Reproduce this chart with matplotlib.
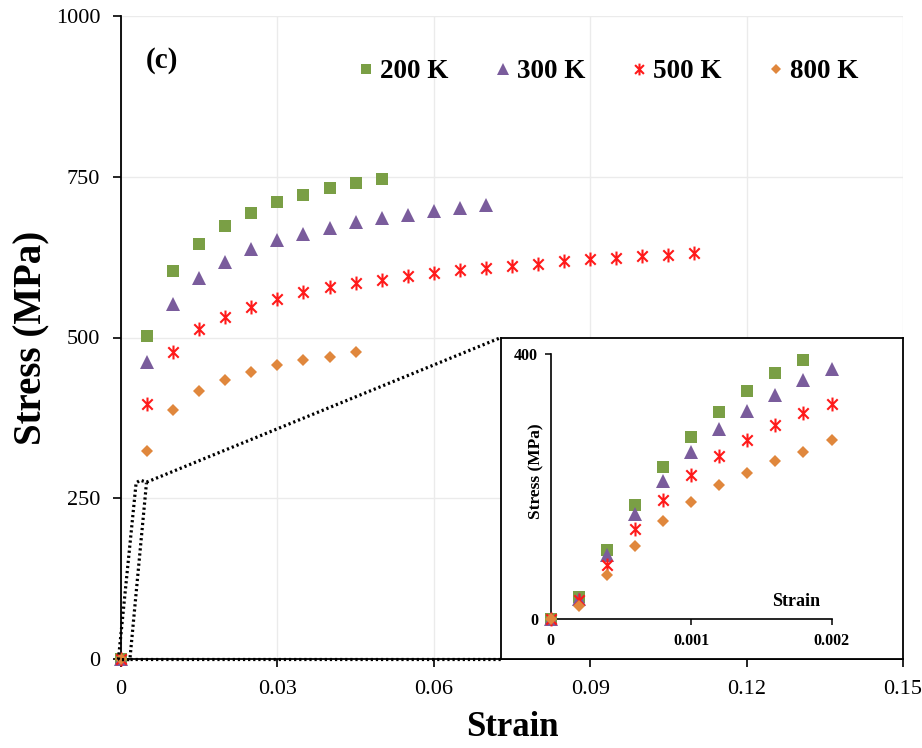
import matplotlib
matplotlib.use('Agg')
import matplotlib.pyplot as plt
from matplotlib.path import Path
from matplotlib.patches import Polygon

plt.rcParams['font.family'] = ['Liberation Serif', 'DejaVu Serif']

# main plot data (strain, stress MPa)
strain_200 = [0, 0.005, 0.010, 0.015, 0.020, 0.025, 0.030, 0.035, 0.040, 0.045, 0.050]
stress_200 = [0, 502, 603, 646, 674, 694, 710, 722, 732, 740, 747]

strain_300 = [0, 0.005, 0.010, 0.015, 0.020, 0.025, 0.030, 0.035, 0.040, 0.045, 0.050,
              0.055, 0.060, 0.065, 0.070]
stress_300 = [0, 462, 552, 593, 618, 638, 651, 661, 671, 679, 686, 691, 697, 701, 706]

strain_500 = [0, 0.005, 0.010, 0.015, 0.020, 0.025, 0.030, 0.035, 0.040, 0.045, 0.050,
              0.055, 0.060, 0.065, 0.070, 0.075, 0.080, 0.085, 0.090, 0.095, 0.100,
              0.105, 0.110]
stress_500 = [0, 397, 477, 513, 532, 548, 560, 570, 578, 585, 590, 596, 600, 605, 608,
              611, 615, 619, 622, 624, 627, 629, 632]

strain_800 = [0, 0.005, 0.010, 0.015, 0.020, 0.025, 0.030, 0.035, 0.040, 0.045]
stress_800 = [0, 323, 387, 417, 434, 447, 457, 465, 470, 477]

# inset (elastic part)
in_strain = [0, 0.0002, 0.0004, 0.0006, 0.0008, 0.0010, 0.0012, 0.0014, 0.0016, 0.0018, 0.0020]
in_200 = [0, 34, 104, 173, 229, 275, 313, 344, 371, 392]
in_300 = [0, 30, 97, 158, 209, 253, 287, 315, 339, 361, 378]
in_500 = [0, 29, 82, 136, 180, 217, 246, 270, 293, 311, 325]
in_800 = [0, 20, 67, 111, 148, 177, 203, 221, 239, 253, 270]

labels = ['200 K', '300 K', '500 K', '800 K']
colors = ['#7a9f45', '#7a5c9c', '#ff1a1a', '#e0873c']

x_ticks = [0, 0.03, 0.06, 0.09, 0.12, 0.15]
x_ticklabels = ['0', '0.03', '0.06', '0.09', '0.12', '0.15']
y_ticks = [0, 250, 500, 750, 1000]

# excel-like star marker: vertical bar + X
star = Path([(0, -1), (0, 1), (-0.75, -0.75), (0.75, 0.75), (-0.75, 0.75), (0.75, -0.75)],
            [Path.MOVETO, Path.LINETO, Path.MOVETO, Path.LINETO, Path.MOVETO, Path.LINETO])


def draw_series(a, xs_list, ys_list, clip=True):
    a.plot(xs_list[0], ys_list[0], ls='none', marker='s', ms=8, mew=0, color=colors[0],
           label=labels[0], clip_on=clip, zorder=3)
    a.plot(xs_list[1], ys_list[1], ls='none', marker='^', ms=9.5, mew=0, color=colors[1],
           label=labels[1], clip_on=clip, zorder=3)
    a.plot(xs_list[2], ys_list[2], ls='none', marker=star, ms=10, mew=1.5, mec=colors[2],
           color=colors[2], label=labels[2], clip_on=clip, zorder=3)
    a.plot(xs_list[3], ys_list[3], ls='none', marker='D', ms=6.5, mew=0, color=colors[3],
           label=labels[3], clip_on=clip, zorder=3)


fig = plt.figure(figsize=(9.22, 7.48), dpi=100)
ax = fig.add_axes([121 / 922, 1 - 659 / 748, 782 / 922, 643 / 748])

draw_series(ax, [strain_200, strain_300, strain_500, strain_800],
            [stress_200, stress_300, stress_500, stress_800], clip=False)

ax.set_xlim(0, 0.15)
ax.set_ylim(0, 1000)
ax.set_xticks(x_ticks)
ax.set_xticklabels(x_ticklabels)
ax.set_yticks(y_ticks)
ax.grid(True, color='#ebebeb', lw=1)
ax.set_axisbelow(True)
for s in ['top', 'right']:
    ax.spines[s].set_visible(False)
for s in ['left', 'bottom']:
    ax.spines[s].set_linewidth(1.3)
ax.tick_params(axis='both', direction='out', length=6, width=1.2, labelsize=16)
ax.tick_params(axis='x', pad=9)
ax.tick_params(axis='y', pad=9)
ax.set_xlabel('Strain', fontsize=25, fontweight='bold', labelpad=9)
ax.set_ylabel('Stress (MPa)', fontsize=28, fontweight='bold', labelpad=4)

ax.text(146 / 922, 1 - 61 / 748, '(c)', transform=fig.transFigure, fontsize=21,
        fontweight='bold', va='center', ha='left')

ax.legend(loc='center left', bbox_to_anchor=(358 / 922, 1 - 72 / 748),
          bbox_transform=fig.transFigure, ncol=4, frameon=False,
          prop={'weight': 'bold', 'size': 19.5}, handlelength=0.6, handletextpad=0.22,
          columnspacing=1.7, borderpad=0, borderaxespad=0, markerscale=0.85)

# zoom marker: skewed dotted box near origin and connector lines to the inset
dot = dict(color='black', lw=2.3, ls=(0, (0.7, 0.9)), clip_on=False, zorder=4)
ax.add_patch(Polygon([(-0.0005, -1), (0.0029, 274), (0.0037, 278), (0.0049, 275), (0.0017, -1)],
                     closed=True, fill=False, **dot))
ax.plot([0.0049, 0.0729], [275, 500], **dot)
ax.plot([0.0017, 0.0729], [0, 0], **dot)

# inset frame
frame = ax.inset_axes([0.0729, 0, 0.0771, 500], transform=ax.transData, zorder=5)
frame.set_xticks([])
frame.set_yticks([])
frame.set_facecolor('white')
for s in frame.spines.values():
    s.set_linewidth(1.3)

ins = ax.inset_axes([0.0824, 62, 0.0539, 412], transform=ax.transData, zorder=6)
ins.patch.set_alpha(0)
draw_series(ins, [in_strain[:10], in_strain, in_strain, in_strain],
            [in_200, in_300, in_500, in_800], clip=False)
ins.set_xlim(0, 0.002)
ins.set_ylim(0, 400)
ins.set_xticks([0, 0.001, 0.002])
ins.set_xticklabels(['0', '0.001', '0.002'])
ins.set_yticks([0, 400])
for s in ['top', 'right']:
    ins.spines[s].set_visible(False)
for s in ['left', 'bottom']:
    ins.spines[s].set_linewidth(1.2)
ins.tick_params(axis='both', direction='out', length=4, width=1.1, labelsize=11.5)
ins.tick_params(axis='x', pad=6)
ins.tick_params(axis='y', pad=5)
for t in ins.get_xticklabels() + ins.get_yticklabels():
    t.set_fontweight('bold')
ins.set_ylabel('Stress (MPa)', fontsize=12.5, fontweight='bold')
ins.yaxis.set_label_coords(-0.022, 0.56)
ins.text(0.00175, 26, 'Strain', fontsize=13, fontweight='bold', ha='center', va='center')

fig.savefig('out.png', dpi=100)
